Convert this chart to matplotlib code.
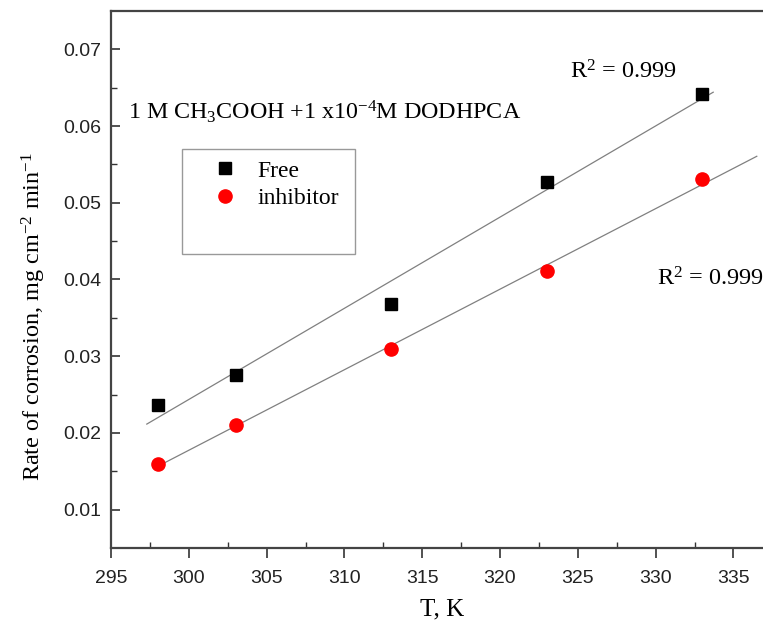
import matplotlib
matplotlib.use("Agg")
import matplotlib.pyplot as plt
import numpy as np
from matplotlib.patches import Rectangle

# data
temp_k = [298, 303, 313, 323, 333]
rate_free = [0.0237, 0.0276, 0.0368, 0.0527, 0.0642]
rate_inhib = [0.0160, 0.0210, 0.0310, 0.0411, 0.0531]
fit_span_free = (297.3, 333.7)
fit_span_inhib = (298.0, 336.5)
x_ticks = [295, 300, 305, 310, 315, 320, 325, 330, 335]
y_ticks = [0.01, 0.02, 0.03, 0.04, 0.05, 0.06, 0.07]

plt.rcParams["mathtext.fontset"] = "custom"
plt.rcParams["mathtext.rm"] = "Liberation Serif"
plt.rcParams["mathtext.it"] = "Liberation Serif:italic"
serif = "Liberation Serif"
sans = "Liberation Sans"

fig = plt.figure(figsize=(7.63, 6.20), dpi=100)
ax = fig.add_axes([0.1455, 0.1161, 1.0 - 0.1455, 0.9823 - 0.1161])

for xs, ys, span in ((temp_k, rate_free, fit_span_free), (temp_k, rate_inhib, fit_span_inhib)):
    k, b = np.polyfit(xs, ys, 1)
    xx = np.array(span)
    ax.plot(xx, k * xx + b, color="#808080", lw=0.9, zorder=1)

ax.plot(temp_k, rate_free, ls="none", marker="s", ms=9, color="black", zorder=3)
ax.plot(temp_k, rate_inhib, ls="none", marker="o", ms=9.5, color="red", mec="red", zorder=3)

ax.set_xlim(295, 336.9)
ax.set_ylim(0.005, 0.075)
ax.set_xticks(x_ticks)
ax.set_yticks(y_ticks)
ax.set_xticks(np.arange(297.5, 336, 5), minor=True)
ax.set_yticks(np.arange(0.015, 0.075, 0.01), minor=True)
ax.set_xticklabels([str(t) for t in x_ticks], fontfamily=sans, fontsize=14, color="#222222")
ax.set_yticklabels([f"{t:.2f}" for t in y_ticks], fontfamily=sans, fontsize=14, color="#222222")
ax.tick_params(axis="x", which="major", direction="out", length=7.5, width=1.2, pad=8, color="#333333")
ax.tick_params(axis="x", which="minor", direction="in", length=4, width=1.0, color="#333333")
ax.tick_params(axis="y", which="major", direction="in", length=6.5, width=1.2, pad=7, color="#333333")
ax.tick_params(axis="y", which="minor", direction="in", length=4, width=1.0, color="#333333")

ax.spines["right"].set_visible(False)
for side in ("left", "top", "bottom"):
    ax.spines[side].set_color("#444444")
    ax.spines[side].set_linewidth(1.6)

ax.set_xlabel("T, K", fontfamily=serif, fontsize=18)
ax.xaxis.set_label_coords(0.508, -0.093)
ax.set_ylabel("Rate of corrosion, mg cm$^{-2}$ min$^{-1}$", fontfamily=serif, fontsize=17.5)
ax.yaxis.set_label_coords(-0.096, 0.432)

ax.text(296.1, 0.0609, "1 M CH$_3$COOH +1 x10$^{-4}$M DODHPCA", fontfamily=serif, fontsize=17.3)
ax.text(324.5, 0.0662, "R$^2$ = 0.999", fontfamily=serif, fontsize=17.5)
ax.text(330.1, 0.0392, "R$^2$ = 0.999", fontfamily=serif, fontsize=17.5)

# legend frame with the empty space below the entries
ax.add_patch(Rectangle((0.1084, 0.5475), 0.2658, 0.1955, transform=ax.transAxes,
                       fill=False, ec="#999999", lw=1.0, zorder=2))
leg_h = [ax.plot([], [], ls="none", marker="s", ms=9, color="black")[0],
         ax.plot([], [], ls="none", marker="o", ms=9.5, color="red")[0]]
ax.legend(leg_h, ["Free", "inhibitor"], loc="upper left", bbox_to_anchor=(0.1534, 0.7225),
          frameon=False, prop={"family": serif, "size": 17}, handletextpad=0.75,
          borderaxespad=0, borderpad=0, labelspacing=0.27, handlelength=1.2)

fig.savefig("out.png", dpi=100)
plt.close(fig)
